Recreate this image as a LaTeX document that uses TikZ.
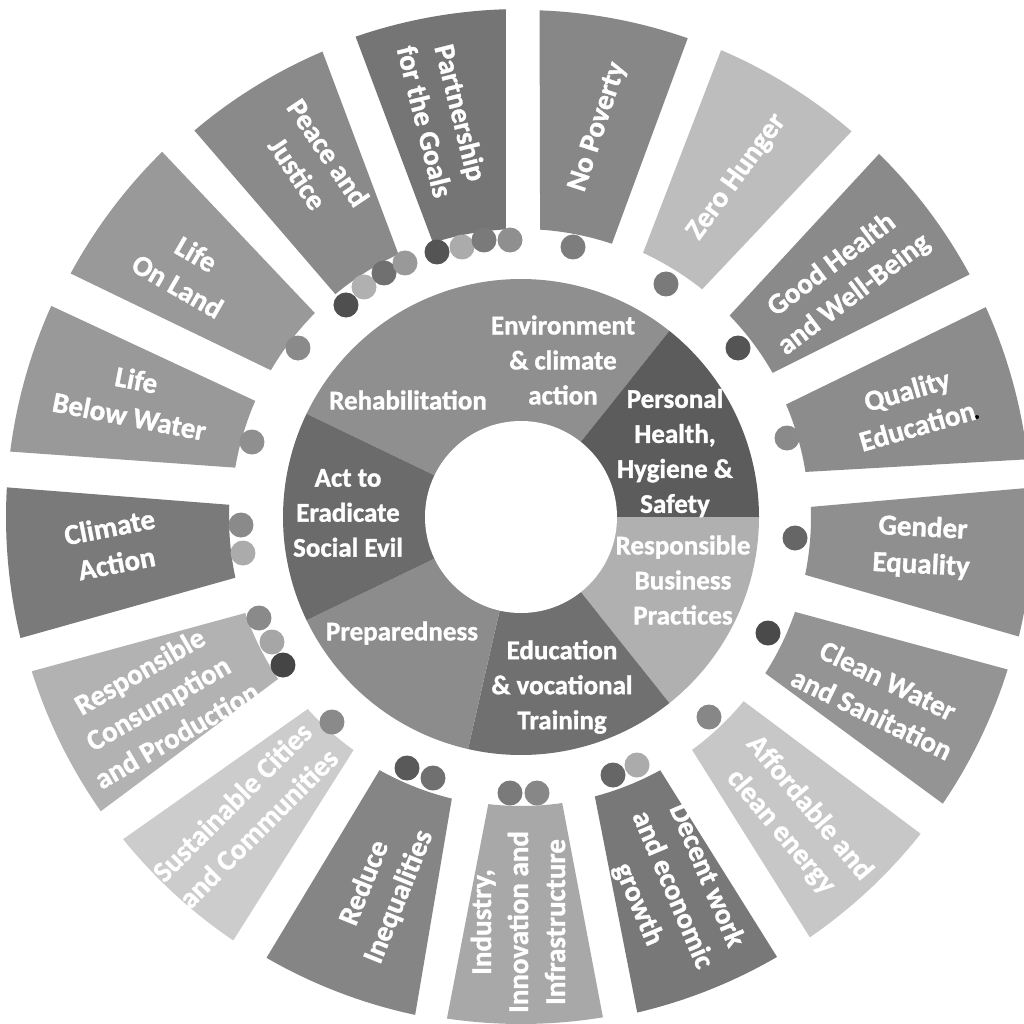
\documentclass[tikz,border=0pt]{standalone}
\usepackage{fontspec}
\setmainfont{Carlito}[BoldFeatures={FakeBold=1.2}]
\newcommand\seg[7]{% color, outer start, outer end, inner start, inner end, r in, r out
  \fill[#1] (#2:#7) arc[start angle=#2, end angle=#3, radius=#7] -- (#5:#6) arc[start angle=#5, end angle=#4, radius=#6] -- cycle;}
\newcommand\piewedge[3]{\fill[#1] (0,0) -- (#2:238) arc[start angle=#2, end angle=#3, radius=238] -- cycle;}
\newcommand\lbl[5]{% name, position, rotation, style, text
  \node[#4, rotate=#3] (#1) at #2 {#5};}
\tikzset{
  outer/.style={font=\fontsize{29}{37}\selectfont\bfseries, align=center, text=white, inner sep=0pt},
  inner/.style={font=\fontsize{27}{35}\selectfont\bfseries, align=center, text=white, inner sep=0pt},
  dot/.style={circle, inner sep=0pt, minimum size=25pt}
}
\begin{document}
\begin{tikzpicture}[x=1pt,y=1pt]
\useasboundingbox[fill=white] (-521,-506) rectangle (503,517);
% outer SDG segments
\seg{black!47!white}{70.8}{87.9}{71.6}{86.2}{288}{507}      % No Poverty
\seg{black!26!white}{49.4}{66.8}{51.5}{65.2}{291}{508}      % Zero Hunger
\seg{black!46!white}{28.4}{45.4}{29.8}{44}{290}{510}        % Good Health
\seg{black!45!white}{6.5}{24.3}{9}{23}{288}{510}            % Quality Education
\seg{black!44!white}{-13.5}{3.3}{-11.5}{2}{290}{512}        % Gender Equality
\seg{black!42!white}{-34.2}{-17.4}{-32.6}{-19.1}{290}{510}  % Clean Water
\seg{black!22!white}{-55.5}{-38.4}{-53.7}{-39.6}{289}{510}  % Affordable
\seg{black!53!white}{-76.8}{-59.8}{-75.2}{-61.2}{289}{509}  % Decent work
\seg{black!34!white}{-98.4}{-80.7}{-96.5}{-81.8}{289}{507}  % Industry
\seg{black!48!white}{-120}{-102}{-119.2}{-103.8}{290}{509}  % Reduce
\seg{black!20!white}{-141}{-124.2}{-138}{-125.7}{287}{512}  % Sustainable
\seg{black!30!white}{197.5}{215}{199.2}{213.7}{292}{513}    % Responsible Consumption
\seg{black!52!white}{176.7}{193.6}{177.6}{192}{292}{515}    % Climate
\seg{black!40!white}{155.8}{172.7}{156.4}{170.2}{290}{515}  % Life Below Water
\seg{black!40!white}{134.5}{151.6}{135.3}{149.6}{290}{512}  % Life On Land
\seg{black!46!white}{113.1}{130.2}{115}{129.8}{290}{506}    % Peace
\seg{black!54!white}{91.7}{109}{93}{107.8}{288}{508}        % Partnership
% inner donut
\piewedge{black!44!white}{51.43}{154.29}
\piewedge{black!64!white}{0}{51.43}
\piewedge{black!31!white}{-51.43}{0}
\piewedge{black!56!white}{-102.86}{-51.43}
\piewedge{black!45!white}{205.71}{257.14}
\piewedge{black!58!white}{154.29}{205.71}
\fill[white] (0,0) circle[radius=96];
% dots
\node[dot, fill=black!69!white] (pj1) at (-175,212) {};
\node[dot, fill=black!31!white] (pj2) at (-157,230) {};
\node[dot, fill=black!56!white] (pj3) at (-137,244) {};
\node[dot, fill=black!40!white] (pj4) at (-116,254) {};
\node[dot, fill=black!67!white] (pg1) at (-84,265) {};
\node[dot, fill=black!33!white] (pg2) at (-59,270) {};
\node[dot, fill=black!52!white] (pg3) at (-37,277) {};
\node[dot, fill=black!44!white] (pg4) at (-11,277) {};
\node[dot, fill=black!51!white] (np1) at (52,270) {};
\node[dot, fill=black!52!white] (zh1) at (145,233) {};
\node[dot, fill=black!67!white] (gh1) at (217,169) {};
\node[dot, fill=black!46!white] (qe1) at (266,79) {};
\node[dot, fill=black!60!white] (ge1) at (274,-21) {};
\node[dot, fill=black!71!white] (cw1) at (247,-116) {};
\node[dot, fill=black!47!white] (ae1) at (188,-200) {};
\node[dot, fill=black!60!white] (dw1) at (92,-258) {};
\node[dot, fill=black!33!white] (dw2) at (116,-248) {};
\node[dot, fill=black!52!white] (ii1) at (-11,-276) {};
\node[dot, fill=black!47!white] (ii2) at (16,-276) {};
\node[dot, fill=black!65!white] (ri1) at (-114,-251) {};
\node[dot, fill=black!56!white] (ri2) at (-88,-261) {};
\node[dot, fill=black!46!white] (sc1) at (-189,-205) {};
\node[dot, fill=black!46!white] (rc1) at (-262,-101) {};
\node[dot, fill=black!35!white] (rc2) at (-249,-125) {};
\node[dot, fill=black!73!white] (rc3) at (-238,-148) {};
\node[dot, fill=black!46!white] (ca1) at (-280,-8) {};
\node[dot, fill=black!33!white] (ca2) at (-278,-36) {};
\node[dot, fill=black!44!white] (lw1) at (-269,75) {};
\node[dot, fill=black!46!white] (ll1) at (-223,169) {};
\node[circle, fill=black, inner sep=0pt, minimum size=4pt] (qdot) at (456,100) {};
% outer labels
\lbl{tNP}{(77,390)}{72}{outer}{No Poverty}
\lbl{tPG}{(-78,400)}{-76}{outer}{Partnership\\for the Goals}
\lbl{tPJ}{(-208,354)}{-56}{outer}{Peace and\\Justice}
\lbl{tLL}{(-334,247)}{-30}{outer}{Life\\On Land}
\lbl{tLW}{(-388,119)}{-11}{outer}{Life\\Below Water}
\lbl{tCA}{(-408,-28)}{11}{outer}{Climate\\Action}
\lbl{tRC}{(-363,-186)}{30}{outer}{Responsible\\Consumption\\and Production}
\lbl{tSC}{(-276,-298)}{45}{outer}{Sustainable Cities\\and Communities}
\lbl{tRI}{(-139,-373)}{68}{outer}{Reduce\\Inequalities}
\lbl{tII}{(-3,-405)}{90}{outer}{Industry,\\Innovation and\\Infrastructure}
\lbl{tDW}{(151,-373)}{-67}{outer}{Decent work\\and economic\\growth}
\lbl{tAE}{(274,-303)}{-50}{outer}{Affordable and\\clean energy}
\lbl{tCW}{(359,-180)}{-26}{outer}{Clean Water\\and Sanitation}
\lbl{tGE}{(401,-30)}{-3}{outer}{Gender\\Equality}
\lbl{tQE}{(391,109)}{16}{outer}{Quality\\Education}
\lbl{tGH}{(322,237)}{37}{outer}{Good Health\\and Well-Being}
\lbl{tZH}{(216,340)}{54}{outer}{Zero Hunger}
% inner labels
\lbl{iEN}{(42,157)}{0}{inner}{Environment\\\& climate\\action}
\lbl{iRE}{(-113,117)}{0}{inner}{Rehabilitation}
\lbl{iPH}{(154,64)}{0}{inner}{Personal\\Health,\\Hygiene \&\\Safety}
\lbl{iRB}{(162,-63)}{0}{inner}{Responsible\\Business\\Practices}
\lbl{iED}{(41,-170)}{0}{inner}{Education\\\& vocational\\Training}
\lbl{iPR}{(-119,-116)}{0}{inner}{Preparedness}
\lbl{iAE}{(-173,4)}{0}{inner}{Act to\\Eradicate\\Social Evil}
\end{tikzpicture}
\end{document}
